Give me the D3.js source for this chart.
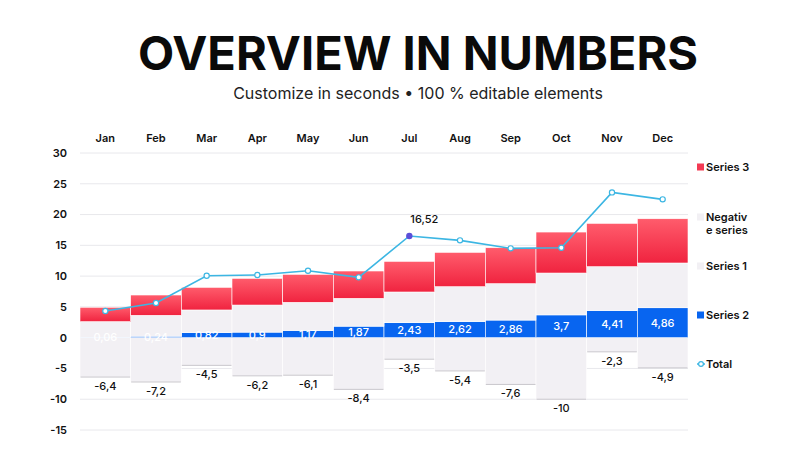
<!doctype html>
<html lang="en">
<head>
    <meta charset="utf-8" />
    <title>Overview in numbers</title>
    <style>
        body { margin: 0; background: #fff; }
        svg { display: block; font-family: Inter, "Noto Sans", sans-serif; }
    </style>
</head>
<body>
    <svg id="chart"></svg>

    <script src="https://cdn.jsdelivr.net/npm/d3@7"></script>

    <script>
        const months = ["Jan", "Feb", "Mar", "Apr", "May", "Jun", "Jul", "Aug", "Sep", "Oct", "Nov", "Dec"];
        const series2 = [0.06, 0.24, 0.82, 0.9, 1.17, 1.87, 2.43, 2.62, 2.86, 3.7, 4.41, 4.86];
        const series1 = [2.54, 3.39, 3.68, 4.4, 4.57, 4.52, 4.99, 5.66, 5.91, 6.8, 7.12, 7.27];
        const series3 = [2.34, 3.3, 3.68, 4.34, 4.55, 4.44, 4.98, 5.58, 5.84, 6.66, 7.04, 7.19];
        const negativeSeries = [-6.4, -7.2, -4.5, -6.2, -6.1, -8.4, -3.5, -5.4, -7.6, -10, -2.3, -4.9];
        const total = [4.33, 5.63, 10.07, 10.18, 10.88, 9.8, 16.52, 15.81, 14.51, 14.61, 23.6, 22.47];
        const yTicks = [30, 25, 20, 15, 10, 5, 0, -5, -10, -15];
        const highlightMonth = "Jul";

        const width = 800, height = 450;

        const svg = d3.select("#chart")
            .attr("width", width)
            .attr("height", height);

        const fmt = v => String(v).replace(".", ",");

        // title
        svg.append("text")
            .attr("x", 418).attr("y", 70)
            .attr("text-anchor", "middle")
            .attr("font-size", 47).attr("font-weight", 700)
            .attr("fill", "#0a0a0a")
            .text("OVERVIEW IN NUMBERS");
        svg.append("text")
            .attr("x", 418).attr("y", 99)
            .attr("text-anchor", "middle")
            .attr("font-size", 16)
            .attr("fill", "#222")
            .text("Customize in seconds \u2022 100 % editable elements");

        const x = d3.scaleBand()
            .domain(months)
            .range([80, 688])
            .padding(0);

        const y = d3.scaleLinear()
            .domain([-15, 30])
            .range([430, 153]);

        // red gradient
        const defs = svg.append("defs");
        const grad = defs.append("linearGradient")
            .attr("id", "red-grad")
            .attr("x1", 0).attr("y1", 0).attr("x2", 0).attr("y2", 1);
        grad.append("stop").attr("offset", "0%").attr("stop-color", "#ff5c6c");
        grad.append("stop").attr("offset", "100%").attr("stop-color", "#f0233f");

        // grid
        svg.append("g")
            .selectAll("line")
            .data(yTicks)
            .join("line")
            .attr("x1", 80).attr("x2", 688)
            .attr("y1", d => y(d)).attr("y2", d => y(d))
            .attr("stroke", "#e8e8ec")
            .attr("stroke-width", 1);

        // y axis labels
        svg.append("g")
            .selectAll("text")
            .data(yTicks)
            .join("text")
            .attr("x", 67)
            .attr("y", d => y(d))
            .attr("dy", "0.35em")
            .attr("text-anchor", "end")
            .attr("font-size", 11).attr("font-weight", 600)
            .attr("fill", "#111")
            .text(d => d);

        // month labels on top
        svg.append("g")
            .selectAll("text")
            .data(months)
            .join("text")
            .attr("x", d => x(d) + x.bandwidth() / 2)
            .attr("y", 138)
            .attr("dy", "0.35em")
            .attr("text-anchor", "middle")
            .attr("font-size", 11).attr("font-weight", 600)
            .attr("fill", "#111")
            .text(d => d);

        const table = months.map((m, i) => ({
            month: m,
            s2: series2[i], s1: series1[i], s3: series3[i],
            neg: negativeSeries[i], total: total[i]
        }));

        // negative series
        const negG = svg.append("g");
        negG.selectAll("rect")
            .data(table)
            .join("rect")
            .attr("x", d => x(d.month))
            .attr("width", x.bandwidth())
            .attr("y", y(0))
            .attr("height", d => y(d.neg) - y(0))
            .attr("fill", "#f2f0f4")
            .attr("stroke", "#fff").attr("stroke-width", 0.6);
        negG.selectAll("line")
            .data(table)
            .join("line")
            .attr("x1", d => x(d.month) + 0.5)
            .attr("x2", d => x(d.month) + x.bandwidth() - 0.5)
            .attr("y1", d => y(d.neg)).attr("y2", d => y(d.neg))
            .attr("stroke", "#c9c7cc").attr("stroke-width", 1);

        // stacked positive series
        const keys = ["s2", "s1", "s3"];
        const fills = {s2: "#0865f0", s1: "#f2f0f4", s3: "url(#red-grad)"};
        const stacked = d3.stack().keys(keys)(table);

        svg.append("g")
            .selectAll("g")
            .data(stacked)
            .join("g")
            .attr("fill", d => fills[d.key])
            .selectAll("rect")
            .data(d => d)
            .join("rect")
            .attr("x", d => x(d.data.month))
            .attr("width", x.bandwidth())
            .attr("y", d => y(d[1]))
            .attr("height", d => y(d[0]) - y(d[1]))
            .attr("stroke", "#fff").attr("stroke-width", 0.6);

        // series 2 labels
        svg.append("g")
            .selectAll("text")
            .data(table)
            .join("text")
            .attr("x", d => x(d.month) + x.bandwidth() / 2)
            .attr("y", d => (y(0) + y(d.s2)) / 2)
            .attr("dy", "0.35em")
            .attr("text-anchor", "middle")
            .attr("font-size", 11).attr("font-weight", 500)
            .attr("fill", "#fff")
            .text(d => fmt(d.s2));

        // negative labels
        svg.append("g")
            .selectAll("text")
            .data(table)
            .join("text")
            .attr("x", d => x(d.month) + x.bandwidth() / 2)
            .attr("y", d => y(d.neg) + 9)
            .attr("dy", "0.35em")
            .attr("text-anchor", "middle")
            .attr("font-size", 11).attr("font-weight", 500)
            .attr("fill", "#111")
            .text(d => fmt(d.neg));

        // total line
        const line = d3.line()
            .x(d => x(d.month) + x.bandwidth() / 2)
            .y(d => y(d.total));

        svg.append("path")
            .datum(table)
            .attr("fill", "none")
            .attr("stroke", "#3cb6e3")
            .attr("stroke-width", 1.6)
            .attr("d", line);

        svg.append("g")
            .selectAll("circle")
            .data(table)
            .join("circle")
            .attr("cx", d => x(d.month) + x.bandwidth() / 2)
            .attr("cy", d => y(d.total))
            .attr("r", 2.6)
            .attr("fill", d => d.month === highlightMonth ? "#5b4fd8" : "#fff")
            .attr("stroke", d => d.month === highlightMonth ? "#5b4fd8" : "#3cb6e3")
            .attr("stroke-width", 1.2);

        const hl = table.find(d => d.month === highlightMonth);
        svg.append("text")
            .attr("x", x(hl.month) + x.bandwidth() / 2 + 1)
            .attr("y", y(hl.total) - 17)
            .attr("dy", "0.35em")
            .attr("font-size", 11).attr("font-weight", 500)
            .attr("fill", "#111")
            .text(fmt(hl.total));

        // legend
        const legend = [
            {lines: ["Series 3"], y: 167, color: "#f33a53", type: "rect"},
            {lines: ["Negativ", "e series"], y: 217, color: "#f2f0f4", type: "rect"},
            {lines: ["Series 1"], y: 266, color: "#f2f0f4", type: "rect"},
            {lines: ["Series 2"], y: 315, color: "#0865f0", type: "rect"},
            {lines: ["Total"], y: 364, color: "#3cb6e3", type: "line"}
        ];
        const lg = svg.append("g")
            .selectAll("g")
            .data(legend)
            .join("g")
            .attr("transform", d => `translate(697,${d.y})`);

        lg.filter(d => d.type === "rect")
            .append("rect")
            .attr("x", 0).attr("y", -3.5)
            .attr("width", 7).attr("height", 7)
            .attr("fill", d => d.color);

        const tl = lg.filter(d => d.type === "line");
        tl.append("line")
            .attr("x1", 0).attr("x2", 8)
            .attr("stroke", d => d.color).attr("stroke-width", 1.5);
        tl.append("circle")
            .attr("cx", 4).attr("r", 2.4)
            .attr("fill", "#fff")
            .attr("stroke", d => d.color).attr("stroke-width", 1.2);

        lg.append("text")
            .attr("font-size", 11).attr("font-weight", 600)
            .attr("fill", "#111")
            .selectAll("tspan")
            .data(d => d.lines)
            .join("tspan")
            .attr("x", 9)
            .attr("y", (d, i) => i * 13)
            .attr("dy", "0.35em")
            .text(d => d);
    </script>
</body>
</html>
